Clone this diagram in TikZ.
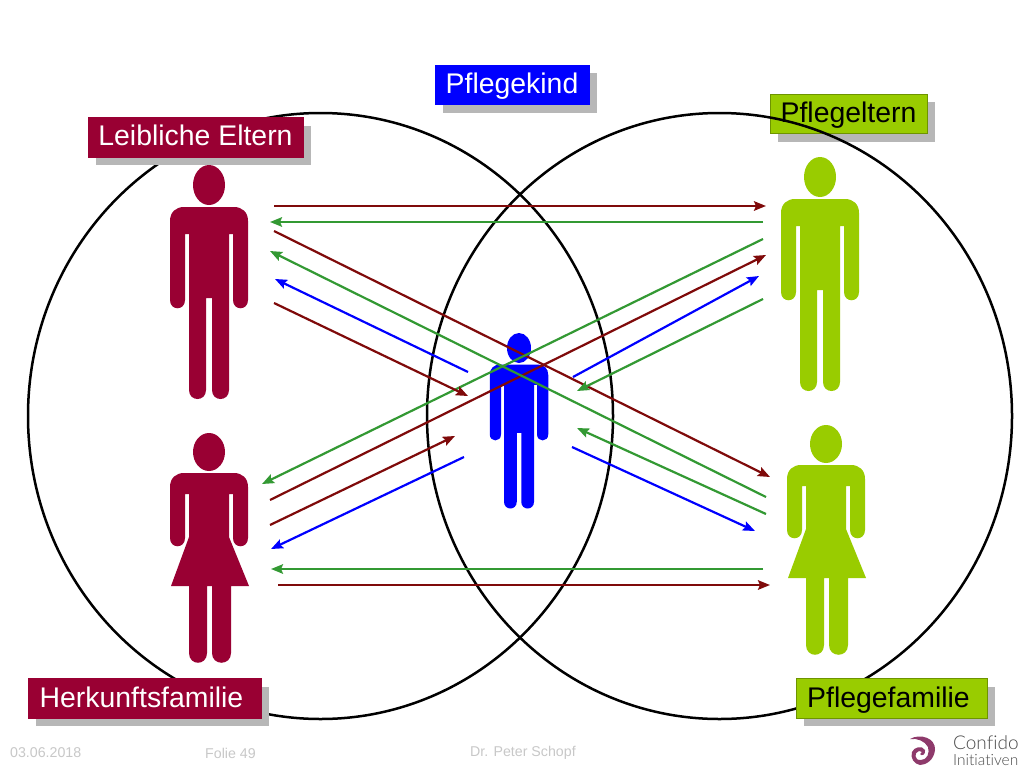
\documentclass[tikz,border=0pt]{standalone}
\usepackage{fontspec}
\setmainfont{Liberation Sans}
\newfontfamily\logofont[Ligatures=NoCommon]{Lato Light}
\usetikzlibrary{arrows.meta,shadows}
\definecolor{crim}{HTML}{990033}
\definecolor{lime}{HTML}{99CC00}
\definecolor{limeb}{HTML}{6E9400}
\definecolor{dred}{HTML}{7F0A0A}
\definecolor{dgreen}{HTML}{339933}
\definecolor{pure}{HTML}{0000FF}
\definecolor{shad}{HTML}{B7B7B7}
\definecolor{foot}{HTML}{C8C8C8}
\definecolor{logo}{HTML}{8E3A6B}
\tikzset{
  label box/.style={minimum width=#1,minimum height=39.5pt,inner sep=0pt,line width=.6pt,
    font=\fontsize{28.4}{32}\selectfont,
    drop shadow={shadow xshift=8pt,shadow yshift=-8pt,fill=shad,opacity=1}},
  big circle/.style={draw=black,line width=2.5pt},
  conn/.style={line width=2.2pt,-{Stealth[length=12pt,width=9.5pt,inset=2pt]}},
  foot text/.style={text=foot,font=\fontsize{14.2}{16}\selectfont,inner sep=0pt}
}
% #1 drop of the baseline below the box centre, #2 trailing space (shifts text left by half), #3 text
\newcommand{\boxtext}[3]{\raisebox{-#1pt}[0pt][0pt]{#3\hspace*{#2pt}}}
\newcommand{\conn}[5]{%
  \coordinate (#2s) at (#3);
  \coordinate (#2e) at (#4);
  \draw[conn,#5] (#2s) -- (#2e);}
% #1 colour, #2 centre x, #3 head top y, #4 scale
\newcommand{\manfig}[4]{%
\begin{scope}[shift={(#2,#3)},scale=#4]
  \fill[#1] (0,20) ellipse[x radius=16,y radius=20];
  \fill[#1] (-39,56) .. controls (-39,47) and (-33,42) .. (-25,42) -- (25,42)
    .. controls (33,42) and (39,47) .. (39,56) -- (39,135)
    .. controls (39,146) and (24,146) .. (24,135) -- (24,69) -- (20,69)
    -- (20,225) .. controls (20,237) and (3,237) .. (3,225) -- (3,133) -- (-3,133)
    -- (-3,225) .. controls (-3,237) and (-20,237) .. (-20,225) -- (-20,69) -- (-24,69)
    -- (-24,135) .. controls (-24,146) and (-39,146) .. (-39,135) -- cycle;
\end{scope}}
\newcommand{\womanfig}[3]{%
\begin{scope}[shift={(#2,#3)}]
  \fill[#1] (0,19) ellipse[x radius=16,y radius=19];
  \fill[#1] (-39,54) .. controls (-39,45) and (-33,40) .. (-25,40) -- (25,40)
    .. controls (33,40) and (39,45) .. (39,54) -- (39,105)
    .. controls (39,116) and (24,116) .. (24,105) -- (24,61) -- (20,61) -- (20,104)
    -- (40,153) -- (22,153) -- (22,220) .. controls (22,233) and (3,233) .. (3,220)
    -- (3,153) -- (-2,153) -- (-2,220) .. controls (-2,233) and (-20,233) .. (-20,220)
    -- (-20,153) -- (-38,153) -- (-20,104) -- (-20,61) -- (-24,61)
    -- (-24,105) .. controls (-24,116) and (-39,116) .. (-39,105) -- cycle;
\end{scope}}
\begin{document}
\begin{tikzpicture}[x=1pt,y=-1pt]
\useasboundingbox (0,0) rectangle (1024,768);
\fill[white] (0,0) rectangle (1024,768);
% label under the circle
\node[label box=157pt,fill=lime,draw=limeb,text=black] (pflegeltern) at (848.5,114) {\boxtext{8}{0}{Pflegeltern}};
% circles
\draw[big circle] (320.5,416) ellipse[x radius=292.5,y radius=303];
\draw[big circle] (719.5,416) ellipse[x radius=292.5,y radius=303];
% labels over the circles
\node[label box=154pt,fill=pure,draw=pure,text=white] (pflegekind) at (512,85) {\boxtext{8.5}{0}{Pflegekind}};
\node[label box=215pt,fill=crim,draw=crim,text=white] (leiblich) at (195.5,137.5) {\boxtext{8}{0}{Leibliche Eltern}};
\node[label box=233pt,fill=crim,draw=crim,text=white] (herkunft) at (144.5,698.5) {\boxtext{9}{6}{Herkunftsfamilie}};
\node[label box=191pt,fill=lime,draw=limeb,text=black] (pflegefam) at (891.5,698.5) {\boxtext{9}{6}{Pflegefamilie}};
% figures
\manfig{crim}{209}{165}{1}
\manfig{lime}{820}{157}{1}
\manfig{pure}{519}{333}{.75}
\womanfig{crim}{209}{433}
\womanfig{lime}{826}{425}
% connectors
\conn{dred}{a}{274,206}{766,206}{dred}
\conn{dgreen}{b}{763,222}{270,222}{dgreen}
\conn{dred}{c}{274,231}{770,477}{dred}
\conn{dgreen}{d}{763,239}{262,484}{dgreen}
\conn{dred}{e}{270,500}{766,255}{dred}
\conn{dgreen}{f}{766,497}{270,251}{dgreen}
\conn{pure}{g}{468,372}{275,279}{pure}
\conn{dred}{h}{274,303}{468,396}{dred}
\conn{pure}{i}{573,377}{759,276}{pure}
\conn{dgreen}{j}{763,299}{577,391}{dgreen}
\conn{dred}{k}{270,525}{455,436}{dred}
\conn{pure}{l}{464,457}{271,549}{pure}
\conn{dgreen}{m}{766,514}{577,428}{dgreen}
\conn{pure}{n}{572,447}{755,531}{pure}
\conn{dgreen}{o}{763,569}{271,569}{dgreen}
\conn{dred}{p}{278,585}{770,585}{dred}
% footer
\node[foot text,anchor=west] (date) at (10,753) {03.06.2018};
\node[foot text,anchor=west] (folie) at (205,753) {Folie 49};
\node[foot text,anchor=west] (author) at (470,753) {Dr. Peter Schopf};
% logo
\fill[logo] (910,739) .. controls (920,733) and (936,738) .. (935,750)
  .. controls (934,760) and (926,765) .. (920,765)
  .. controls (914,764) and (910,758) .. (912,752)
  .. controls (914,747) and (922,745) .. (925,750)
  .. controls (926,754) and (922,757) .. (920,754)
  .. controls (923,753) and (921,750) .. (919,751)
  .. controls (914,752) and (914,761) .. (921,760)
  .. controls (927,760) and (930,753) .. (928,747)
  .. controls (925,741) and (917,738) .. (910,739) -- cycle;
\node[anchor=west,inner sep=0pt,text=black!70,font=\logofont\fontsize{19}{20}\selectfont] (confido) at (953,743) {Confido};
\node[anchor=west,inner sep=0pt,text=black!70,font=\logofont\fontsize{15.5}{16}\selectfont] (initiativen) at (953,760) {Initiativen};
\end{tikzpicture}
\end{document}
